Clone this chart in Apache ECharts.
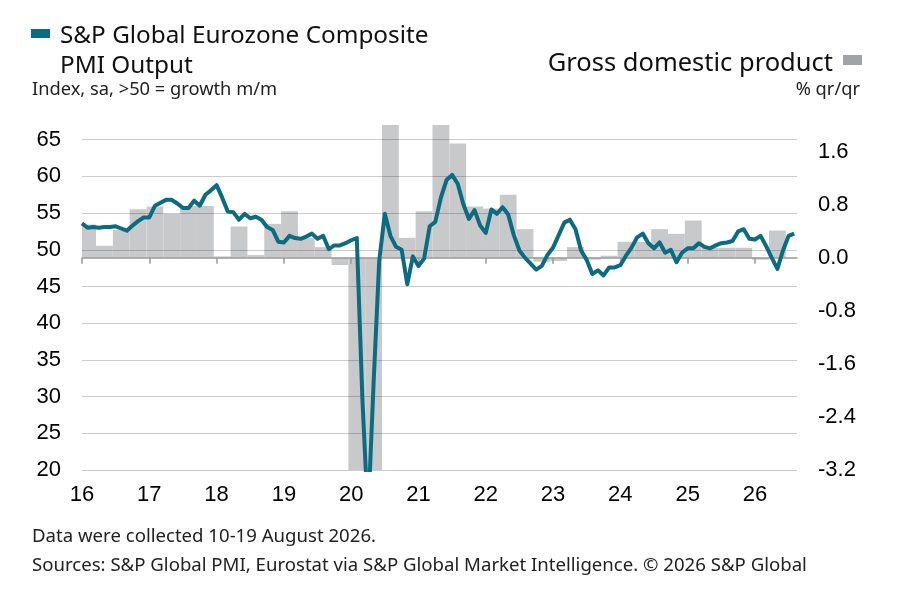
<!DOCTYPE html>
<html>
<head>
<meta charset="UTF-8">
<title>Eurozone Composite PMI and GDP</title>
<script src="https://cdn.jsdelivr.net/npm/echarts@6.0.0/dist/echarts.min.js"></script>
<style>
body{margin:0;background:#fff;}
#chart{width:921px;height:595px;}
</style>
</head>
<body>
<div id="chart"></div>
<script type="text/javascript">
// monthly PMI, Jan 2016 .. Aug 2026
var pmi2016=[53.6,53.0,53.1,53.0,53.1,53.1,53.2,52.9,52.6,53.3,53.9,54.4];
var pmi2017=[54.4,56.0,56.4,56.8,56.8,56.3,55.7,55.7,56.7,56.0,57.5,58.1];
var pmi2018=[58.8,57.1,55.2,55.1,54.1,54.9,54.3,54.5,54.1,53.1,52.7,51.1];
var pmi2019=[51.0,51.9,51.6,51.5,51.8,52.2,51.5,51.9,50.1,50.6,50.6,50.9];
var pmi2020=[51.3,51.6,29.7,13.6,31.9,48.5,54.9,51.9,50.4,50.0,45.3,49.1];
var pmi2021=[47.8,48.8,53.2,53.8,57.1,59.5,60.2,59.0,56.2,54.2,55.4,53.3];
var pmi2022=[52.3,55.5,54.9,55.8,54.8,52.0,49.9,48.9,48.1,47.3,47.8,49.3];
var pmi2023=[50.3,52.0,53.7,54.1,52.8,49.9,48.6,46.7,47.2,46.5,47.6,47.6];
var pmi2024=[47.9,49.2,50.3,51.7,52.2,50.9,50.2,51.0,49.6,50.0,48.3,49.6];
var pmi2025=[50.2,50.2,50.9,50.4,50.2,50.6,50.9,51.0,51.2,52.5,52.8,51.5];
var pmi2026=[51.4,51.9,50.5,48.9,47.4,49.9,51.9,52.2];

// quarterly GDP % q/q, Q1 2016 .. Q2 2026
var gdp=[0.5,0.18,0.42,0.73,
	0.77,0.66,0.78,0.78,
	0.02,0.47,0.04,0.51,
	0.7,0.3,0.16,-0.11,
	-3.5,-11.6,12.6,0.3,
	0.7,2.2,1.72,0.77,
	0.74,0.95,0.43,-0.06,
	-0.05,0.16,-0.03,0.03,
	0.24,0.24,0.43,0.36,
	0.56,0.15,0.15,0.15,
	-0.03,0.41];

var yearLabels=['16','17','18','19','20','21','22','23','24','25','26'];

var teal='#0b6c81';
var barGrey='#c8c9cb';
var numFont='"Liberation Sans", Arial, sans-serif';
var textFont='"Noto Sans", sans-serif';

var pmi=[].concat(pmi2016,pmi2017,pmi2018,pmi2019,pmi2020,pmi2021,pmi2022,pmi2023,pmi2024,pmi2025,pmi2026);
var lineData=[];
for(var i=0;i<pmi.length;i++){
	lineData.push([i,pmi[i]]);
}
var barData=[];
for(var k=0;k<gdp.length;k++){
	barData.push([k*3+1,gdp[k]]);
}
var yearTicks=[];
for(var j=0;j<yearLabels.length;j++){
	yearTicks.push(j*12);
}

var chart=echarts.init(document.getElementById('chart'));
var option={
	animation:false,
	backgroundColor:'#fff',
	grid:{left:82,right:124,top:125,bottom:125},
	graphic:[
		{type:'rect',shape:{x:31,y:29,width:19,height:9},style:{fill:teal}},
		{type:'text',style:{text:'S&P Global Eurozone Composite',x:60,y:36,font:'24.3px '+textFont,fill:'#111',align:'left',verticalAlign:'middle'}},
		{type:'text',style:{text:'PMI Output',x:60,y:66,font:'24.3px '+textFont,fill:'#111',align:'left',verticalAlign:'middle'}},
		{type:'text',style:{text:'Index, sa, >50 = growth m/m',x:32,y:90,font:'18.3px '+textFont,fill:'#222',align:'left',verticalAlign:'middle'}},
		{type:'text',style:{text:'Gross domestic product',x:833,y:64,font:'25.5px '+textFont,fill:'#111',align:'right',verticalAlign:'middle'}},
		{type:'rect',shape:{x:843,y:55,width:19,height:10},style:{fill:'#a2a3a6'}},
		{type:'text',style:{text:'% qr/qr',x:860,y:90,font:'18.3px '+textFont,fill:'#222',align:'right',verticalAlign:'middle'}},
		{type:'text',style:{text:'Data were collected 10-19 August 2026.',x:32,y:537,font:'18.6px '+textFont,fill:'#222',align:'left',verticalAlign:'middle'}},
		{type:'text',style:{text:'Sources: S&P Global PMI, Eurostat via S&P Global Market Intelligence. \u00a9 2026 S&P Global',x:32,y:566,font:'18.6px '+textFont,fill:'#222',align:'left',verticalAlign:'middle'}}
	],
	xAxis:{
		type:'value',
		min:0,
		max:127.5,
		interval:12,
		axisLine:{show:true,lineStyle:{color:'#999',width:1.5}},
		axisTick:{show:true,length:6,customValues:yearTicks,lineStyle:{color:'#999',width:1.5}},
		axisLabel:{
			customValues:yearTicks,
			margin:14,
			color:'#000',
			fontSize:22,
			fontFamily:numFont,
			formatter:function(v){return yearLabels[Math.round(v/12)];}
		},
		splitLine:{show:false}
	},
	yAxis:[{
		type:'value',
		min:20,
		max:67,
		interval:5,
		axisLine:{show:false},
		axisTick:{show:false},
		axisLabel:{margin:21,color:'#000',fontSize:22,fontFamily:numFont,showMaxLabel:false},
		splitLine:{show:true,showMaxLine:false,lineStyle:{color:'rgba(0,0,0,0.2)',width:1.2}}
	},{
		type:'value',
		min:-3.2,
		max:2.0,
		interval:0.8,
		position:'right',
		axisLine:{show:false},
		axisTick:{show:false},
		axisLabel:{
			margin:21,
			color:'#000',
			fontSize:22,
			fontFamily:numFont,
			showMaxLabel:false,
			formatter:function(v){return v.toFixed(1);}
		},
		splitLine:{show:false}
	}],
	series:[{
		name:'Gross domestic product',
		type:'custom',
		xAxisIndex:0,
		yAxisIndex:1,
		z:-1,
		encode:{x:0,y:1},
		renderItem:function(params,api){
			var cs=params.coordSys;
			var a=api.coord([api.value(0)-1.5,0]);
			var b=api.coord([api.value(0)+1.5,api.value(1)]);
			var x0=Math.max(a[0],cs.x);
			var x1=Math.min(b[0],cs.x+cs.width);
			var y0=Math.max(Math.min(a[1],b[1]),cs.y);
			var y1=Math.min(Math.max(a[1],b[1]),cs.y+cs.height);
			return {
				type:'rect',
				shape:{x:x0,y:y0,width:x1-x0,height:y1-y0},
				style:{fill:barGrey}
			};
		},
		data:barData
	},{
		name:'S&P Global Eurozone Composite PMI Output',
		type:'line',
		xAxisIndex:0,
		yAxisIndex:0,
		showSymbol:false,
		clip:true,
		lineStyle:{color:teal,width:4,join:'round'},
		data:lineData
	}]
};
chart.setOption(option);
</script>
</body>
</html>
